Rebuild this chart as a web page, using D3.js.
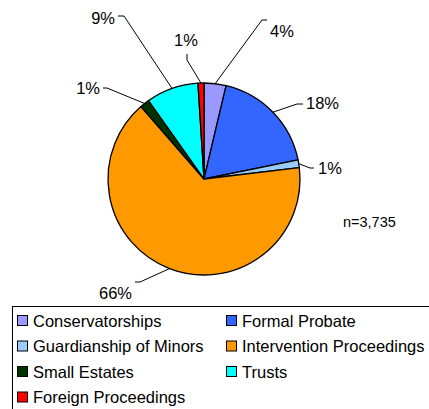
<!DOCTYPE html>
<html><head><meta charset="utf-8">
<script src="https://cdn.jsdelivr.net/npm/d3@7"></script>
<style>html,body{margin:0;padding:0;background:#fff;}svg{display:block;}</style>
</head><body>
<svg id="c" width="429" height="409"></svg>
<script>
// ---- data ----
const categories = ["Conservatorships","Formal Probate","Guardianship of Minors","Intervention Proceedings","Small Estates","Trusts","Foreign Proceedings"];
const values = [3.7, 18.1, 1.3, 65.5, 1.6, 8.8, 1.0];
const valueLabels = ["4%","18%","1%","66%","1%","9%","1%"];
const colors = ["#9999FF","#3366FF","#99CCFF","#FF9900","#003300","#00FFFF","#FF0000"];
const legendOrder = ["Conservatorships","Formal Probate","Guardianship of Minors","Intervention Proceedings","Small Estates","Trusts","Foreign Proceedings"];
const note = "n=3,735";

// ---- layout ----
const W = 429, H = 409;
const cx = 204, cy = 179, R = 96;
const font = "'Liberation Sans', Arial, sans-serif";
// leader elbow / end / text position offsets from pie center
const labelLayout = [
  {elbow:[58,-159], end:[63,-159], text:[66,-142], anchor:"start"},
  {elbow:[93,-75], end:[99,-75], text:[102,-70], anchor:"start"},
  {elbow:[106,-11], end:[110,-11], text:[114,-5], anchor:"start"},
  {elbow:[-64,103], end:[-69,103], text:[-72,120], anchor:"end"},
  {elbow:[-97,-91], end:[-101,-91], text:[-104,-85], anchor:"end"},
  {elbow:[-80,-163], end:[-86,-163], text:[-89,-155], anchor:"end"},
  {elbow:[-17,-119], end:[-17,-125], text:[-18,-133], anchor:"middle"}
];

const svg = d3.select("#c");
const g = svg.append("g").attr("transform", `translate(${cx},${cy})`);

const data = categories.map((c,i)=>({name:c, value:values[i], label:valueLabels[i], color:colors[i], lay:labelLayout[i]}));
const pie = d3.pie().sort(null).value(d=>d.value).startAngle(0).endAngle(2*Math.PI);
const arc = d3.arc().innerRadius(0).outerRadius(R);
const arcs = pie(data);

g.selectAll("path.slice").data(arcs).join("path")
  .attr("class","slice")
  .attr("d", arc)
  .attr("fill", d=>d.data.color)
  .attr("stroke","#000").attr("stroke-width",1.3).attr("stroke-linejoin","round");

// leader lines
g.selectAll("polyline.lead").data(arcs).join("polyline")
  .attr("class","lead")
  .attr("points", d=>{
    const a = (d.startAngle+d.endAngle)/2;
    const p0 = [Math.sin(a)*R, -Math.cos(a)*R];
    return [p0, d.data.lay.elbow, d.data.lay.end].map(p=>p.join(",")).join(" ");
  })
  .attr("fill","none").attr("stroke","#000").attr("stroke-width",1);

g.selectAll("text.pct").data(arcs).join("text")
  .attr("class","pct")
  .attr("x", d=>d.data.lay.text[0]).attr("y", d=>d.data.lay.text[1])
  .attr("text-anchor", d=>d.data.lay.anchor)
  .attr("font-family", font).attr("font-size", 16.5).attr("fill","#000")
  .text(d=>d.data.label);

svg.append("text").attr("x",343).attr("y",227)
  .attr("font-family",font).attr("font-size",14.5).attr("fill","#000").text(note);

// legend
const lg = svg.append("g");
lg.append("rect").attr("x",12.5).attr("y",306.5).attr("width",440).attr("height",130)
  .attr("fill","#fff").attr("stroke","#000").attr("stroke-width",1);
const colX = [17, 226], rowY0 = 321, rowStep = 25.5;
legendOrder.forEach((name,i)=>{
  const idx = categories.indexOf(name);
  const col = i%2, row = Math.floor(i/2);
  const x = colX[col], y = rowY0 + row*rowStep;
  lg.append("rect").attr("x",x+0.5).attr("y",y-5.5).attr("width",10).attr("height",10)
    .attr("fill",colors[idx]).attr("stroke","#000").attr("stroke-width",1);
  lg.append("text").attr("x",x+16).attr("y",y+5.8)
    .attr("font-family",font).attr("font-size",16.5).attr("fill","#000").text(name);
});
</script>
</body></html>
